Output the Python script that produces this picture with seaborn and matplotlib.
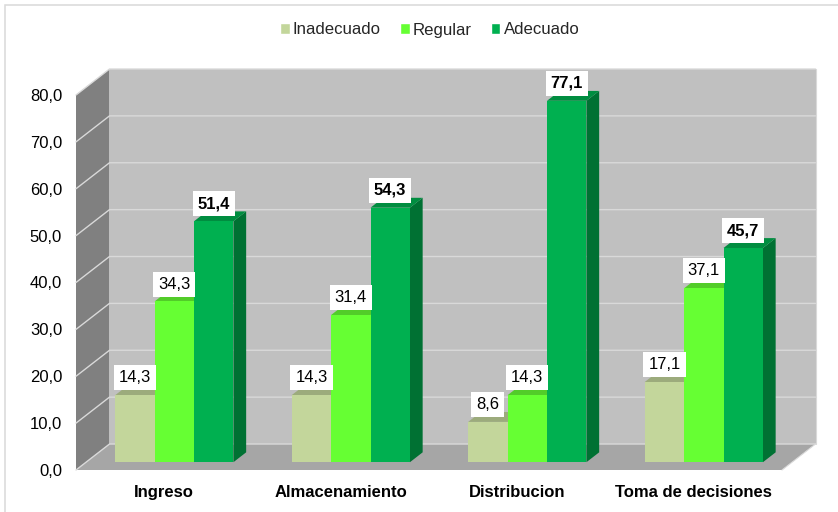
import pandas as pd
import seaborn as sns
import matplotlib.pyplot as plt
from matplotlib.colors import to_rgb
from matplotlib.patches import Polygon, Rectangle

categorias = ['Ingreso', 'Almacenamiento', 'Distribucion', 'Toma de decisiones']
inadecuado = [14.3, 14.3, 8.6, 17.1]
regular = [34.3, 31.4, 14.3, 37.1]
adecuado = [51.4, 54.3, 77.1, 45.7]
niveles = ['Inadecuado', 'Regular', 'Adecuado']
colores = ['#C3D69B', '#66FF33', '#00B050']
y_ticks = [0, 10, 20, 30, 40, 50, 60, 70, 80]

W, H = 838, 512
# depth of the fake 3D box, in data units
DX = 33.5 / 176.5
DY = 26 / 4.69
BAR_FRONT = 0.30
BAR_BACK = 0.68

df = pd.DataFrame({'categoria': categorias, 'Inadecuado': inadecuado, 'Regular': regular, 'Adecuado': adecuado})
df = df.melt(id_vars='categoria', var_name='nivel', value_name='valor')

sns.set_theme(style='white')
plt.rcParams['font.family'] = ['Liberation Sans', 'DejaVu Sans']

fig = plt.figure(figsize=(W / 100, H / 100), dpi=100)
ax = fig.add_axes([76 / W, 1 - 470 / H, (782 - 76) / W, (470 - 95) / H])
sns.barplot(data=df, x='categoria', y='valor', hue='nivel', hue_order=niveles, palette=colores,
            width=0.67, gap=0, saturation=1, ax=ax)
ax.set_xlim(-0.5, 3.5)
ax.set_ylim(0, 80)
ax.patch.set_visible(False)
sns.despine(ax=ax, left=True, bottom=True)

# walls and floor
x0, x1 = ax.get_xlim()
y0, y1 = ax.get_ylim()
ax.add_patch(Polygon([(x0 + DX, y0 + DY), (x1 + DX, y0 + DY), (x1 + DX, y1 + DY), (x0 + DX, y1 + DY)],
                     fc='#C0C0C0', ec='none', zorder=0.5, clip_on=False))
ax.add_patch(Polygon([(x0, y0), (x0 + DX, y0 + DY), (x0 + DX, y1 + DY), (x0, y1)],
                     fc='#808080', ec='none', zorder=0.5, clip_on=False))
ax.add_patch(Polygon([(x0, y0), (x1, y0), (x1 + DX, y0 + DY), (x0 + DX, y0 + DY)],
                     fc='#A6A6A6', ec='none', zorder=0.6, clip_on=False))
for t in y_ticks:
    ax.plot([x0, x0 + DX, x1 + DX], [t, t + DY, t + DY], color='#D9D9D9', lw=1.0, zorder=0.7,
            clip_on=False, solid_joinstyle='miter')
ax.plot([x1 + DX, x1 + DX], [y0 + DY, y1 + DY], color='#D9D9D9', lw=0.8, zorder=0.7, clip_on=False)
ax.plot([x1, x1 + DX], [y0, y0 + DY], color='#D9D9D9', lw=0.8, zorder=0.7, clip_on=False)

# bars moved into the box, with side and top faces
for cont, nivel in zip(ax.containers, niveles):
    for p, v in zip(cont.patches, cont.datavalues):
        bx = p.get_x() + BAR_FRONT * DX
        by = BAR_FRONT * DY
        bw = p.get_width()
        p.set_x(bx)
        p.set_y(by)
        p.set_zorder(3)
        p.set_clip_on(False)
        p.set_edgecolor('none')
        rgb = to_rgb(p.get_facecolor())
        dep_x = (BAR_BACK - BAR_FRONT) * DX
        dep_y = (BAR_BACK - BAR_FRONT) * DY
        top = by + v
        ax.add_patch(Polygon([(bx + bw, by), (bx + bw + dep_x, by + dep_y), (bx + bw + dep_x, top + dep_y), (bx + bw, top)],
                             fc=[c * 0.64 for c in rgb], ec='none', zorder=2, clip_on=False))
        ax.add_patch(Polygon([(bx, top), (bx + dep_x, top + dep_y), (bx + bw + dep_x, top + dep_y), (bx + bw, top)],
                             fc=[c * 0.8 for c in rgb], ec='none', zorder=2, clip_on=False))
        ax.annotate(f'{v:.1f}'.replace('.', ','), xy=(bx + bw / 2, top), xytext=(0, 12.5),
                    textcoords='offset points', ha='center', va='center', fontsize=12, color='black',
                    fontweight='bold' if nivel == 'Adecuado' else 'normal', zorder=5,
                    bbox=dict(boxstyle='square,pad=0.3', fc='white', ec='none'))

ax.set_xlabel('')
ax.set_ylabel('')
ax.set_yticks(y_ticks)
ax.set_yticklabels([f'{t:.1f}'.replace('.', ',') for t in y_ticks], fontsize=12, color='black')
ax.set_xticks(range(len(categorias)))
ax.set_xticklabels(categorias, fontsize=12, fontweight='bold', color='black')
ax.tick_params(axis='y', length=0, pad=10)
ax.tick_params(axis='x', length=0, pad=10.5)

sns.move_legend(ax, 'center', bbox_to_anchor=(430 / W, 1 - 30 / H), bbox_transform=fig.transFigure,
                ncol=3, title=None, frameon=False, fontsize=12.1, handlelength=0.55, handleheight=0.55,
                handletextpad=0.2, columnspacing=1.15, borderpad=0, borderaxespad=0)

# outer frame, only top and left fall inside the picture
fig.add_artist(Rectangle((4.5 / W, -0.1), 1.2, 1.1 - 4.5 / H, transform=fig.transFigure, fc='none',
                         ec='#D9D9D9', lw=1.1))

fig.savefig('out.png', dpi=100)
